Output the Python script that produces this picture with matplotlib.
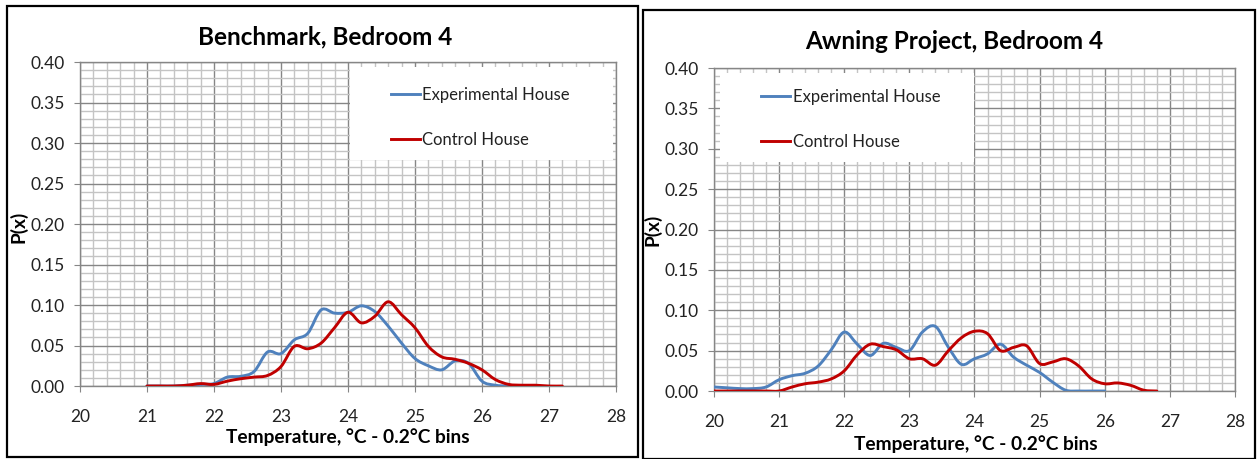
import numpy as np
import matplotlib.pyplot as plt
from matplotlib.path import Path
from matplotlib.patches import PathPatch, Rectangle
from matplotlib.lines import Line2D
from matplotlib.ticker import MultipleLocator

plt.rcParams['font.family'] = ['Lato', 'DejaVu Sans']

BLUE = '#4f81bd'
RED = '#c00000'
MAJOR_GRID = '#868686'
MINOR_GRID = '#c4c4c4'

# Benchmark, Bedroom 4 (0.2 C bins)
bench_exp_temp = [21.0, 21.2, 21.4, 21.6, 21.8, 22.0, 22.2, 22.4, 22.6, 22.8,
                  23.0, 23.2, 23.4, 23.6, 23.8, 24.0, 24.2, 24.4, 24.6, 24.8,
                  25.0, 25.2, 25.4, 25.6, 25.8, 26.0, 26.2, 26.4, 26.6, 26.8]
bench_exp_p = [0.000, 0.000, 0.000, 0.001, 0.002, 0.003, 0.011, 0.012, 0.018, 0.042,
               0.040, 0.057, 0.065, 0.094, 0.090, 0.091, 0.099, 0.092, 0.074, 0.053,
               0.034, 0.025, 0.020, 0.031, 0.028, 0.006, 0.001, 0.000, 0.000, 0.000]
bench_ctl_temp = [21.0, 21.2, 21.4, 21.6, 21.8, 22.0, 22.2, 22.4, 22.6, 22.8,
                  23.0, 23.2, 23.4, 23.6, 23.8, 24.0, 24.2, 24.4, 24.6, 24.8,
                  25.0, 25.2, 25.4, 25.6, 25.8, 26.0, 26.2, 26.4, 26.6, 26.8,
                  27.0, 27.2]
bench_ctl_p = [0.000, 0.000, 0.000, 0.001, 0.003, 0.002, 0.006, 0.009, 0.011, 0.013,
               0.024, 0.049, 0.046, 0.053, 0.072, 0.091, 0.078, 0.086, 0.104, 0.088,
               0.072, 0.049, 0.036, 0.033, 0.028, 0.020, 0.008, 0.002, 0.001, 0.001,
               0.000, 0.000]

# Awning Project, Bedroom 4
awn_exp_temp = [20.0, 20.2, 20.4, 20.6, 20.8, 21.0, 21.2, 21.4, 21.6, 21.8,
                22.0, 22.2, 22.4, 22.6, 22.8, 23.0, 23.2, 23.4, 23.6, 23.8,
                24.0, 24.2, 24.4, 24.6, 24.8, 25.0, 25.2, 25.4, 25.6, 25.8,
                26.0]
awn_exp_p = [0.005, 0.004, 0.003, 0.003, 0.005, 0.014, 0.019, 0.022, 0.031, 0.051,
             0.073, 0.058, 0.044, 0.059, 0.054, 0.050, 0.073, 0.080, 0.054, 0.033,
             0.040, 0.046, 0.058, 0.042, 0.032, 0.023, 0.011, 0.001, 0.000, 0.000,
             0.000]
awn_ctl_temp = [20.0, 20.2, 20.4, 20.6, 20.8, 21.0, 21.2, 21.4, 21.6, 21.8,
                22.0, 22.2, 22.4, 22.6, 22.8, 23.0, 23.2, 23.4, 23.6, 23.8,
                24.0, 24.2, 24.4, 24.6, 24.8, 25.0, 25.2, 25.4, 25.6, 25.8,
                26.0, 26.2, 26.4, 26.6, 26.8]
awn_ctl_p = [0.000, 0.000, 0.000, 0.000, 0.000, 0.000, 0.005, 0.009, 0.011, 0.015,
             0.025, 0.045, 0.058, 0.055, 0.051, 0.040, 0.040, 0.032, 0.050, 0.066,
             0.074, 0.071, 0.050, 0.054, 0.056, 0.034, 0.036, 0.040, 0.031, 0.015,
             0.009, 0.010, 0.007, 0.001, 0.000]


def smooth_path(x, y):
    """Excel-like smoothed line: cubic Bezier segments through every point."""
    pts = np.column_stack([x, y])
    n = len(pts)
    verts = [pts[0]]
    codes = [Path.MOVETO]
    for i in range(n - 1):
        p0 = pts[max(i - 1, 0)]
        p1 = pts[i]
        p2 = pts[i + 1]
        p3 = pts[min(i + 2, n - 1)]
        verts += [p1 + (p2 - p0) / 6.0, p2 - (p3 - p1) / 6.0, p2]
        codes += [Path.CURVE4] * 3
    return Path(verts, codes)


def draw_panel(ax, title_xy, title, series, legend_box, legend_anchor):
    ax.set_xlim(20, 28)
    ax.set_ylim(0, 0.40)
    ax.xaxis.set_major_locator(MultipleLocator(1))
    ax.xaxis.set_minor_locator(MultipleLocator(0.2))
    ax.yaxis.set_major_locator(MultipleLocator(0.05))
    ax.yaxis.set_minor_locator(MultipleLocator(0.01))
    ax.yaxis.set_major_formatter(lambda v, pos: f'{v:.2f}')
    ax.set_axisbelow(True)
    ax.grid(which='minor', color=MINOR_GRID, lw=1.0)
    ax.grid(which='major', color=MAJOR_GRID, lw=1.0)
    for s in ax.spines.values():
        s.set_color(MAJOR_GRID)
        s.set_linewidth(1.0)
    ax.tick_params(which='major', direction='out', length=4, color=MAJOR_GRID,
                   labelsize=12.5, labelcolor='#222222')
    ax.tick_params(axis='x', which='major', pad=12.5)
    ax.tick_params(axis='y', which='major', pad=7)
    ax.tick_params(which='minor', length=0)

    # white legend background covering the grid
    ax.add_patch(Rectangle((legend_box[0], legend_box[1]), legend_box[2], legend_box[3],
                           transform=ax.transAxes, facecolor='white',
                           edgecolor='none', zorder=1))

    handles = []
    for x, y, color, label in series:
        ax.add_patch(PathPatch(smooth_path(x, y), facecolor='none', edgecolor=color,
                               lw=2.1, zorder=3, capstyle='round', joinstyle='round'))
        handles.append(Line2D([], [], color=color, lw=2.1, label=label))

    leg = ax.legend(handles=handles, loc='upper left', bbox_to_anchor=legend_anchor,
                    frameon=False, fontsize=12, handlelength=1.75, handletextpad=0.15,
                    labelspacing=1.75, borderpad=0, borderaxespad=0)
    leg.set_zorder(5)
    for t in leg.get_texts():
        t.set_color('#222222')

    ax.set_xlabel('Temperature, °C - 0.2°C bins', fontsize=13.8, fontweight='bold')
    ax.set_ylabel('P(x)', fontsize=13.8, fontweight='bold')
    ax.figure.text(title_xy[0], title_xy[1], title, ha='center', va='center',
                   fontsize=17.5, fontweight='bold')


fig = plt.figure(figsize=(12.57, 4.59), dpi=100)

ax1 = fig.add_axes([0.0636, 0.1590, 0.4264, 0.7059])
draw_panel(ax1, (0.2585, 0.919), 'Benchmark, Bedroom 4',
           [(bench_exp_temp, bench_exp_p, BLUE, 'Experimental House'),
            (bench_ctl_temp, bench_ctl_p, RED, 'Control House')],
           (0.504, 0.698, 0.490, 0.287), (0.580, 0.924))
ax1.xaxis.set_label_coords(0.499, -0.157)
ax1.yaxis.set_label_coords(-0.114, 0.49)

ax2 = fig.add_axes([0.5680, 0.1481, 0.4145, 0.7037])
draw_panel(ax2, (0.759, 0.9085), 'Awning Project, Bedroom 4',
           [(awn_exp_temp, awn_exp_p, BLUE, 'Experimental House'),
            (awn_ctl_temp, awn_ctl_p, RED, 'Control House')],
           (0.012, 0.709, 0.488, 0.276), (0.090, 0.935))
ax2.xaxis.set_label_coords(0.503, -0.164)
ax2.yaxis.set_label_coords(-0.118, 0.50)

for ax in (ax1, ax2):
    ax.xaxis.label.set_verticalalignment('center')
    ax.yaxis.label.set_verticalalignment('center')

# panel frames
W, H = 1257.0, 459.0
fig.add_artist(Rectangle((7 / W, 2 / H), 631 / W, 451 / H, transform=fig.transFigure,
                         fill=False, edgecolor='black', lw=1.6))
fig.add_artist(Rectangle((643 / W, 0.0), 612 / W, 449 / H, transform=fig.transFigure,
                         fill=False, edgecolor='black', lw=1.6))

fig.savefig('out.png', dpi=100)
